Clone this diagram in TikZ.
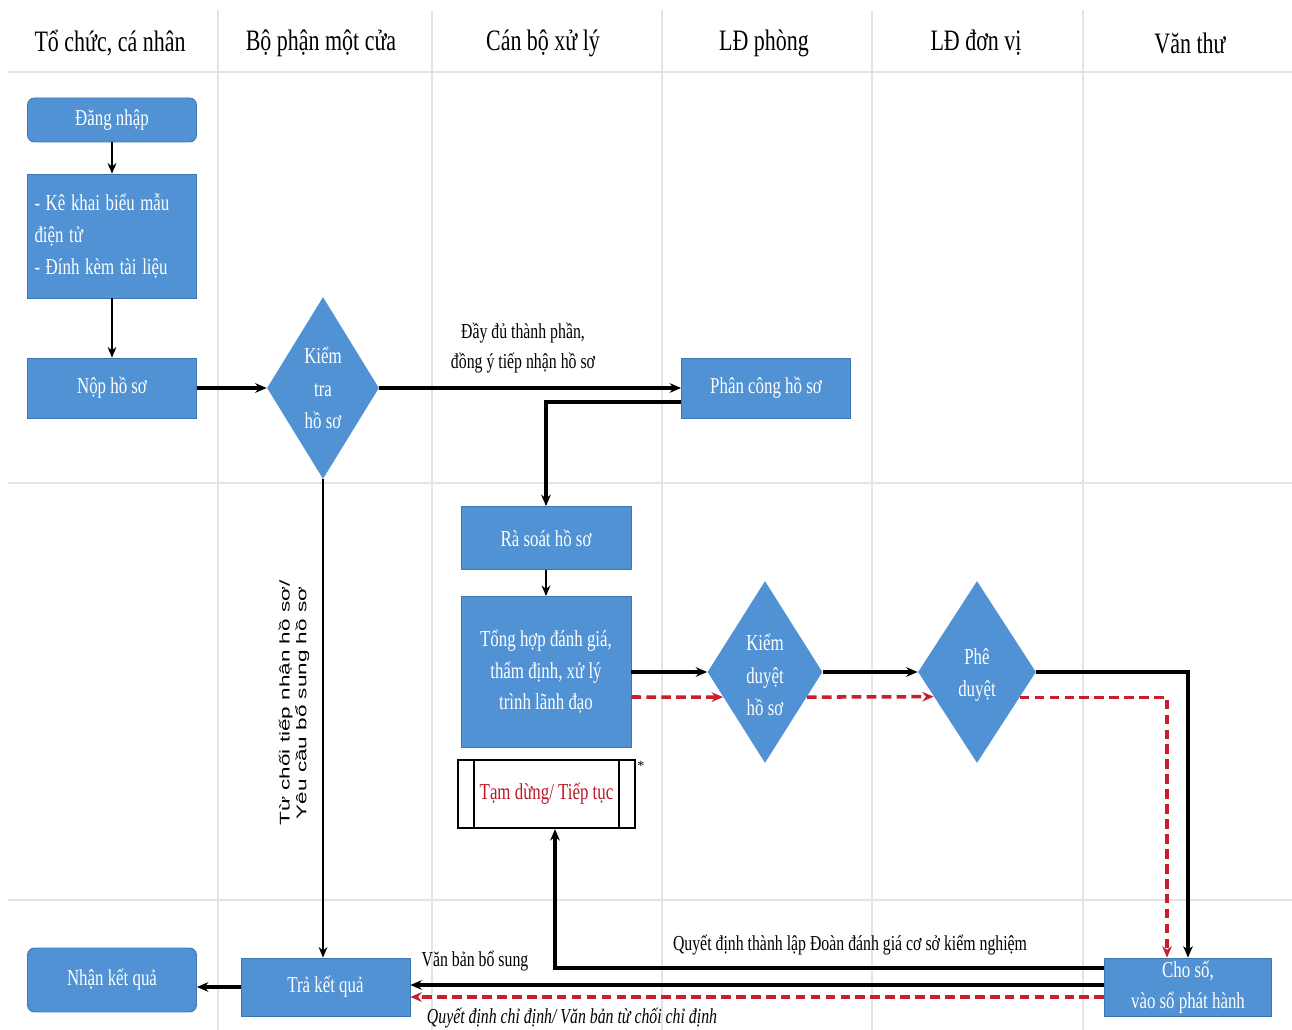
\documentclass[tikz,border=0pt]{standalone}
\usepackage{fontspec}
\setmainfont{Liberation Serif}
\newfontfamily\sansf{Liberation Sans}
\usepackage{graphicx}
\usetikzlibrary{shapes.geometric,arrows.meta,calc}
\definecolor{boxblue}{RGB}{80,146,212}
\definecolor{boxedge}{RGB}{62,118,178}
\definecolor{gridc}{RGB}{228,228,228}
\definecolor{redd}{RGB}{200,30,45}
\definecolor{redtext}{RGB}{185,25,40}
\newcommand{\hs}[1]{\scalebox{1}[1.35]{#1}}
\newcommand{\vst}[1]{\scalebox{1.6}[1]{#1}}
\begin{document}
\begin{tikzpicture}[x=0.02cm,y=-0.02cm,
 box/.style={rectangle,fill=boxblue,draw=boxedge,line width=0.5pt,text=white,inner sep=0pt,font=\fontsize{9.6}{18}\selectfont,align=center},
 rbox/.style={box,rounded corners=4pt},
 dia/.style={diamond,fill=boxblue,draw=none,inner sep=0pt},
 dtext/.style={text=white,font=\fontsize{9.6}{18.5}\selectfont,align=center,inner sep=0pt},
 head/.style={font=\fontsize{12.5}{14}\selectfont,inner sep=0pt},
 lbl/.style={font=\fontsize{9}{17}\selectfont,align=center,inner sep=0pt},
 conn/.style={draw=black,line width=2pt,-{Stealth[length=6.5pt,width=5.5pt]}},
 thinconn/.style={draw=black,line width=1.3pt,-{Stealth[length=6pt,width=5pt]}},
 redconn/.style={draw=redd,line width=2pt,dash pattern=on 5.5pt off 3pt,-{Stealth[length=6.5pt,width=5.5pt]}},
 gridline/.style={draw=gridc,line width=0.8pt},
 sepline/.style={draw=gridc,line width=1.6pt}]

\useasboundingbox[fill=white] (0,0) rectangle (1292,1030);

% lane grid
\foreach \gx in {218,432,662,872,1083} \draw[gridline] (\gx,10) -- (\gx,1030);
\draw[sepline] (8,72) -- (1292,72);
\draw[sepline] (8,483) -- (1292,483);
\draw[sepline] (8,900) -- (1292,900);

% headers
\node[head] (h1) at (110,43) {\hs{Tổ chức, cá nhân}};
\node[head] (h2) at (321,43) {\hs{Bộ phận một cửa}};
\node[head] (h3) at (543,43) {\hs{Cán bộ xử lý}};
\node[head] (h4) at (764,43) {\hs{LĐ phòng}};
\node[head] (h5) at (976,43) {\hs{LĐ đơn vị}};
\node[head] (h6) at (1190,43) {\hs{Văn thư}};

% nodes
\node[rbox,minimum width=3.38cm,minimum height=0.88cm] (dn) at (112,120) {\hs{Đăng nhập}};
\node[box,minimum width=3.38cm,minimum height=2.48cm,align=left,text width=3.1cm] (kk) at (112,236)
  {\hs{- Kê khai biểu mẫu}\\\hs{điện tử}\\\hs{- Đính kèm tài liệu}};
\node[box,minimum width=3.38cm,minimum height=1.2cm] (nop) at (112,388) {\hs{Nộp hồ sơ}};
\node[dia,minimum width=2.24cm,minimum height=3.64cm] (kt) at (323,388) {};
\node[dtext] (ktt) at (323,388) {\hs{Kiểm}\\\hs{tra}\\\hs{hồ sơ}};
\node[box,minimum width=3.38cm,minimum height=1.2cm] (pc) at (766,388) {\hs{Phân công hồ sơ}};
\node[box,minimum width=3.4cm,minimum height=1.26cm] (rs) at (546,538) {\hs{Rà soát hồ sơ}};
\node[box,minimum width=3.4cm,minimum height=3.02cm] (th) at (546,672)
  {\hs{Tổng hợp đánh giá,}\\\hs{thẩm định, xử lý}\\\hs{trình lãnh đạo}};
\node[rectangle,draw=black,line width=1.3pt,fill=white,minimum width=3.54cm,minimum height=1.36cm,inner sep=0pt,
  text=redtext,font=\fontsize{9.6}{14}\selectfont] (td) at (546.5,794) {\hs{Tạm dừng/ Tiếp tục}};
\draw[line width=1.3pt] ([xshift=0.34cm]td.north west) -- ([xshift=0.34cm]td.south west);
\draw[line width=1.3pt] ([xshift=-0.34cm]td.north east) -- ([xshift=-0.34cm]td.south east);
\node[font=\fontsize{8}{9}\selectfont,inner sep=0pt] (star) at (641,766) {*};
\node[dia,minimum width=2.3cm,minimum height=3.64cm] (kd) at (765,672) {};
\node[dtext] (kdt) at (765,675) {\hs{Kiểm}\\\hs{duyệt}\\\hs{hồ sơ}};
\node[dia,minimum width=2.36cm,minimum height=3.64cm] (pd) at (977,672) {};
\node[dtext] (pdt) at (977,675) {\hs{Phê}\\\hs{duyệt}};
\node[box,minimum width=3.34cm,minimum height=1.16cm,font=\fontsize{9.6}{17.5}\selectfont] (cs) at (1188,987) {\hs{Cho số,}\\\hs{vào sổ phát hành}};
\node[box,minimum width=3.38cm,minimum height=1.16cm] (tk) at (325.5,987) {\hs{Trả kết quả}};
\node[rbox,minimum width=3.38cm,minimum height=1.28cm] (nk) at (112,980) {\hs{Nhận kết quả}};

% labels
\node[lbl] (l1) at (523,348) {\hs{Đầy đủ thành phần,}\\\hs{đồng ý tiếp nhận hồ sơ}};
\node[lbl] (l2) at (475,961) {\hs{Văn bản bổ sung}};
\node[lbl] (l3) at (850,945) {\hs{Quyết định thành lập Đoàn đánh giá cơ sở kiểm nghiệm}};
\node[lbl,font=\fontsize{9}{17}\selectfont\itshape] (l4) at (572,1018) {\hs{Quyết định chỉ định/ Văn bản từ chối chỉ định}};
\node[rotate=90,align=center,inner sep=0pt,font=\sansf\fontsize{8}{9.6}\selectfont] (l5) at (294,703)
  {\vst{Từ chối tiếp nhận hồ sơ/}\\\vst{Yêu cầu bổ sung hồ sơ}};

% connectors
\draw[thinconn] (dn) -- (kk);
\draw[thinconn] (kk) -- (nop);
\draw[conn] (nop) -- (kt);
\draw[conn] (kt) -- (pc);
\draw[conn] ([yshift=-0.28cm]pc.west) -| (rs.north);
\draw[thinconn] (rs) -- (th);
\draw[conn] (th) -- (kd);
\draw[redconn] ([yshift=-0.5cm]th.east) -- ($(kd.west)!0.275!(kd.south)$);
\draw[conn] (kd) -- (pd);
\draw[redconn] ($(kd.east)!0.275!(kd.south)$) -- ($(pd.west)!0.27!(pd.south)$);
\draw[conn] (pd.east) -| (cs.north);
\draw[redconn] ($(pd.east)!0.28!(pd.south)$) -| ([xshift=-0.42cm]cs.north);
\draw[conn] ([yshift=0.38cm]cs.west) -| ([xshift=0.17cm]td.south);
\draw[conn] ([yshift=0.04cm]cs.west) -- ([yshift=0.04cm]tk.east);
\draw[redconn] ([yshift=-0.2cm]cs.west) -- ([yshift=-0.2cm]tk.east);
\draw[conn] (tk.west) -- (tk.west -| nk.east);
\draw[thinconn] (kt.south) -- (kt.south |- tk.north);
\end{tikzpicture}
\end{document}
